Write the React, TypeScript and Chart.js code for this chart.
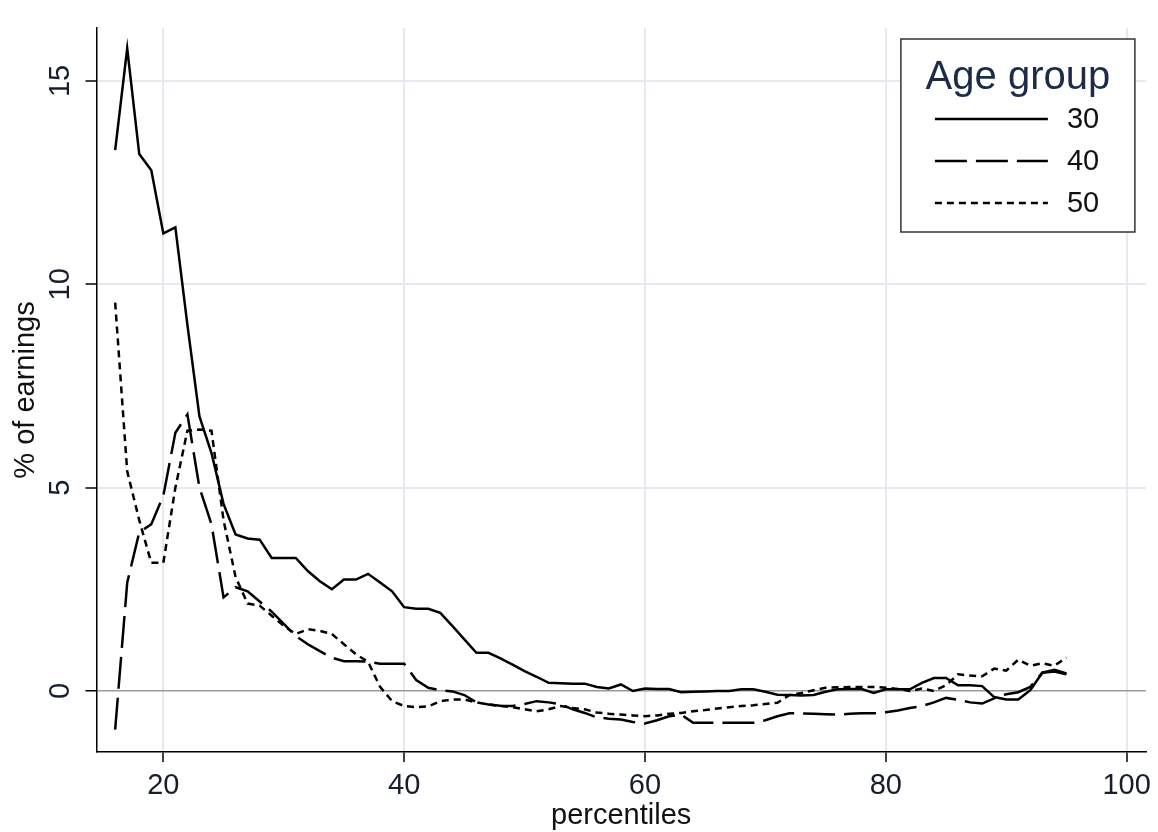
import React, { useEffect, useRef } from 'react';
import { Chart, registerables } from 'chart.js';

Chart.register(...registerables);

const percentiles = [
  16, 17, 18, 19, 20, 21, 22, 23, 24, 25, 26, 27, 28, 29, 30, 31, 32, 33, 34, 35,
  36, 37, 38, 39, 40, 41, 42, 43, 44, 45, 46, 47, 48, 49, 50, 51, 52, 53, 54, 55,
  56, 57, 58, 59, 60, 61, 62, 63, 64, 65, 66, 67, 68, 69, 70, 71, 72, 73, 74, 75,
  76, 77, 78, 79, 80, 81, 82, 83, 84, 85, 86, 87, 88, 89, 90, 91, 92, 93, 94, 95,
];

const age30 = [
  13.3, 15.8, 13.2, 12.8, 11.25, 11.4, 9.0, 6.75, 5.85, 4.6,
  3.85, 3.75, 3.72, 3.27, 3.27, 3.27, 2.95, 2.7, 2.5, 2.74,
  2.74, 2.88, 2.67, 2.45, 2.06, 2.02, 2.02, 1.92, 1.6, 1.27,
  0.94, 0.94, 0.8, 0.65, 0.49, 0.35, 0.2, 0.19, 0.18, 0.18,
  0.1, 0.06, 0.16, 0.0, 0.06, 0.05, 0.05, -0.03, -0.02, -0.01,
  0.0, 0.0, 0.04, 0.04, -0.02, -0.09, -0.1, -0.11, -0.1, -0.02,
  0.04, 0.05, 0.05, -0.05, 0.04, 0.04, 0.04, 0.2, 0.32, 0.32,
  0.14, 0.14, 0.12, -0.15, -0.21, -0.21, 0.02, 0.45, 0.48, 0.41,
];

const age40 = [
  -0.95, 2.66, 3.9, 4.1, 4.8, 6.35, 6.8, 5.0, 4.1, 2.3,
  2.55, 2.45, 2.2, 1.95, 1.65, 1.35, 1.15, 0.98, 0.82, 0.73,
  0.73, 0.72, 0.67, 0.67, 0.67, 0.27, 0.08, 0.02, -0.01, -0.1,
  -0.28, -0.33, -0.36, -0.37, -0.32, -0.25, -0.28, -0.33, -0.45, -0.54,
  -0.65, -0.68, -0.7, -0.76, -0.8, -0.72, -0.62, -0.58, -0.78, -0.78,
  -0.78, -0.78, -0.78, -0.78, -0.72, -0.62, -0.55, -0.55, -0.56, -0.57,
  -0.58, -0.56, -0.55, -0.55, -0.52, -0.48, -0.42, -0.37, -0.28, -0.17,
  -0.22, -0.28, -0.31, -0.18, -0.08, -0.03, 0.1, 0.45, 0.52, 0.43,
];

const age50 = [
  9.55, 5.4, 4.2, 3.15, 3.15, 5.0, 6.4, 6.43, 6.4, 4.2,
  2.8, 2.15, 2.1, 1.85, 1.6, 1.4, 1.52, 1.48, 1.4, 1.15,
  0.9, 0.72, 0.1, -0.25, -0.37, -0.4, -0.38, -0.25, -0.21, -0.21,
  -0.28, -0.33, -0.37, -0.4, -0.45, -0.5, -0.45, -0.37, -0.42, -0.45,
  -0.53, -0.56, -0.58, -0.6, -0.62, -0.6, -0.56, -0.54, -0.5, -0.47,
  -0.43, -0.4, -0.37, -0.35, -0.32, -0.29, -0.1, -0.05, 0.02, 0.08,
  0.09, 0.1, 0.1, 0.1, 0.08, 0.05, 0.0, 0.06, 0.0, 0.14,
  0.41, 0.38, 0.36, 0.55, 0.5, 0.77, 0.62, 0.68, 0.62, 0.82,
];

const seriesLabels = ['30', '40', '50'];
const seriesValues = [age30, age40, age50];
const xTicks = [20, 40, 60, 80, 100];
const yTicks = [0, 5, 10, 15];
const legendTitle = 'Age group';
const xTitle = 'percentiles';
const yTitle = '% of earnings';

const FONT = "'Liberation Sans', Arial, Helvetica, sans-serif";
const DASHES = [[], [32, 9], [7, 5]];

export default function App() {
  const ref = useRef<HTMLCanvasElement | null>(null);

  useEffect(() => {
    const canvas = ref.current;
    if (!canvas) return;

    const datasets = seriesValues.map((vals, i) => ({
      label: seriesLabels[i],
      data: percentiles.map((p, j) => ({ x: p, y: vals[j] })),
      borderColor: '#000',
      borderWidth: 2.5,
      borderDash: DASHES[i],
      pointRadius: 0,
      tension: 0,
      fill: false,
    }));

    const boxLegend = {
      id: 'boxLegend',
      afterDraw(chart: any) {
        const { ctx, chartArea } = chart;
        const w = 234;
        const h = 193;
        const left = chartArea.right - 11 - w;
        const top = chartArea.top + 11;
        ctx.save();
        ctx.fillStyle = '#fff';
        ctx.fillRect(left, top, w, h);
        ctx.strokeStyle = '#333';
        ctx.lineWidth = 1.5;
        ctx.setLineDash([]);
        ctx.strokeRect(left, top, w, h);
        ctx.fillStyle = '#1c2c48';
        ctx.font = `40px ${FONT}`;
        ctx.textAlign = 'center';
        ctx.textBaseline = 'middle';
        ctx.fillText(legendTitle, left + w / 2, top + 39);
        chart.data.datasets.forEach((ds: any, i: number) => {
          const y = top + 80 + i * 42;
          ctx.beginPath();
          ctx.setLineDash(ds.borderDash || []);
          ctx.lineWidth = 2.5;
          ctx.strokeStyle = ds.borderColor;
          ctx.moveTo(left + 34, y);
          ctx.lineTo(left + 147, y);
          ctx.stroke();
          ctx.setLineDash([]);
          ctx.fillStyle = '#111';
          ctx.font = `29px ${FONT}`;
          ctx.textAlign = 'left';
          ctx.textBaseline = 'middle';
          ctx.fillText(ds.label, left + 166, y + 1);
        });
        ctx.restore();
      },
    };

    const chart = new Chart(canvas, {
      type: 'line',
      data: { datasets },
      options: {
        responsive: false,
        animation: false,
        events: [],
        layout: { padding: { top: 28, right: 10, left: 0, bottom: 0 } },
        plugins: {
          legend: { display: false },
          tooltip: { enabled: false },
        },
        scales: {
          x: {
            type: 'linear',
            min: 14.45,
            max: 101.6,
            afterBuildTicks: (s: any) => {
              s.ticks = xTicks.map((v) => ({ value: v }));
            },
            afterFit: (s: any) => {
              s.height = 80;
            },
            border: { color: '#000', width: 1.5 },
            grid: {
              color: '#e6e9f0',
              lineWidth: 2,
              tickColor: '#000',
              tickLength: 10,
              tickWidth: 1.5,
            },
            ticks: {
              color: '#161e2c',
              font: { family: FONT, size: 29 },
              padding: 7,
              maxRotation: 0,
              autoSkip: false,
            },
            title: {
              display: true,
              text: xTitle,
              color: '#111',
              font: { family: FONT, size: 29, lineHeight: 1 },
              padding: { top: 0, bottom: 1.5 },
            },
          },
          y: {
            type: 'linear',
            min: -1.5,
            max: 16.3,
            afterBuildTicks: (s: any) => {
              s.ticks = yTicks.map((v) => ({ value: v }));
            },
            afterFit: (s: any) => {
              s.width = 96.5;
            },
            border: { color: '#000', width: 1.5 },
            grid: {
              color: (c: any) => (c.tick && c.tick.value === 0 ? '#9a9a9a' : '#e6e9f0'),
              lineWidth: (c: any) => (c.tick && c.tick.value === 0 ? 1.5 : 2),
              tickColor: '#000',
              tickLength: 11,
              tickWidth: 1.5,
            },
            ticks: {
              color: '#161e2c',
              font: { family: FONT, size: 29 },
              padding: 8,
              minRotation: 90,
              maxRotation: 90,
              crossAlign: 'center',
              autoSkip: false,
            },
            title: {
              display: true,
              text: yTitle,
              color: '#111',
              font: { family: FONT, size: 29, lineHeight: 1 },
              padding: { top: 11.5, bottom: 0 },
            },
          },
        },
      },
      plugins: [boxLegend],
    } as any);

    return () => chart.destroy();
  }, []);

  return (
    <div style={{ position: 'fixed', left: 0, top: 0, width: 1158, height: 832, background: '#fff' }}>
      <canvas ref={ref} width={1158} height={832} style={{ display: 'block' }} />
    </div>
  );
}
